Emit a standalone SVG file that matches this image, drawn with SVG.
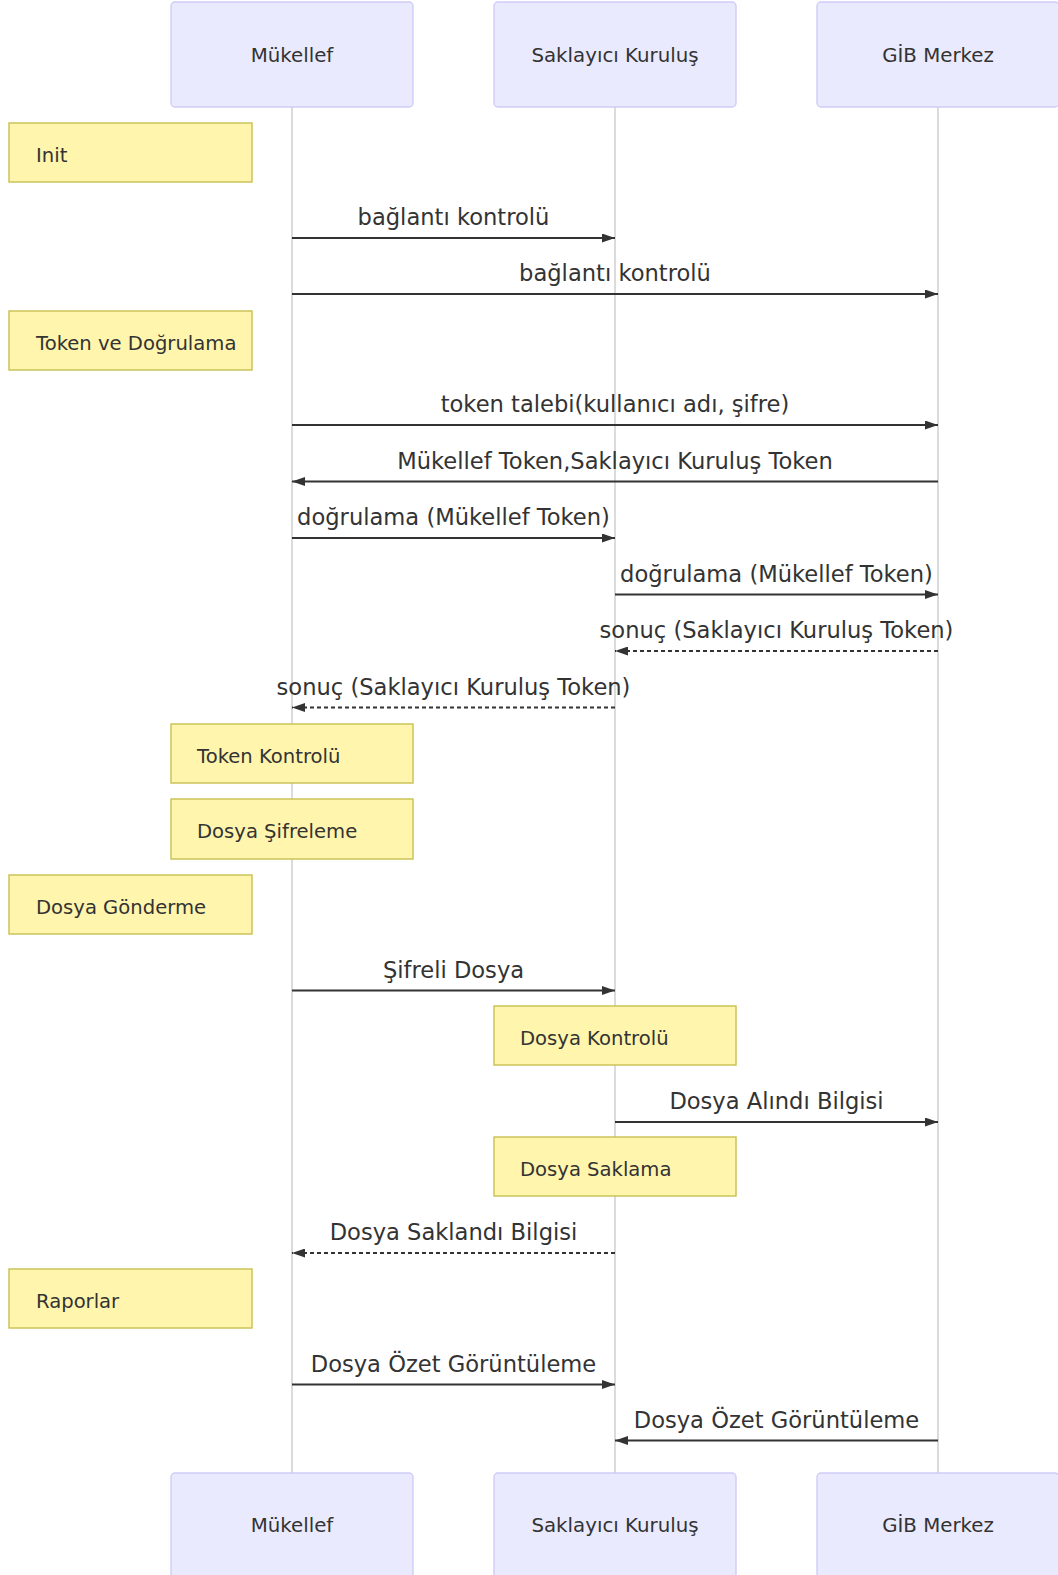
<svg xmlns="http://www.w3.org/2000/svg" width="1058" height="1575" viewBox="0 0 1058 1575">
<defs>
<style>
.actor{fill:#eaeaff;stroke:#d0ccf8;stroke-width:1.4}
.atext{font-family:"DejaVu Sans",sans-serif;font-size:19.8px;fill:#333;text-anchor:middle}
.life{stroke:#cccccc;stroke-width:1.4}
.note{fill:#fff5ad;stroke:#c8c050;stroke-width:1.4}
.ntext{font-family:"DejaVu Sans",sans-serif;font-size:19.6px;fill:#333}
.msg{stroke:#333;stroke-width:2;fill:none}
.dash{stroke-dasharray:4 3}
.mtext{font-family:"DejaVu Sans",sans-serif;font-size:22.6px;fill:#333;text-anchor:middle}
</style>
<marker id="ah" markerUnits="userSpaceOnUse" markerWidth="13" markerHeight="9" viewBox="0 0 13 9" refX="13" refY="4.5" orient="auto">
<path d="M0,0 L13,4.5 L0,9 z" fill="#333"/>
</marker>
</defs>
<rect width="1058" height="1575" fill="#ffffff"/>
<g id="lifelines">
<line class="life" x1="292" y1="107" x2="292" y2="1473"/>
<line class="life" x1="615" y1="107" x2="615" y2="1473"/>
<line class="life" x1="938" y1="107" x2="938" y2="1473"/>
</g>
<g id="actor-mukellef-top"><rect class="actor" x="171" y="2" width="242" height="105" rx="4"/><text class="atext" x="292" y="62">Mükellef</text></g>
<g id="actor-saklayici-top"><rect class="actor" x="494" y="2" width="242" height="105" rx="4"/><text class="atext" x="615" y="62">Saklayıcı Kuruluş</text></g>
<g id="actor-gib-top"><rect class="actor" x="817" y="2" width="242" height="105" rx="4"/><text class="atext" x="938" y="62">GİB Merkez</text></g>
<g id="actor-mukellef-bottom"><rect class="actor" x="171" y="1473" width="242" height="105" rx="4"/><text class="atext" x="292" y="1532">Mükellef</text></g>
<g id="actor-saklayici-bottom"><rect class="actor" x="494" y="1473" width="242" height="105" rx="4"/><text class="atext" x="615" y="1532">Saklayıcı Kuruluş</text></g>
<g id="actor-gib-bottom"><rect class="actor" x="817" y="1473" width="242" height="105" rx="4"/><text class="atext" x="938" y="1532">GİB Merkez</text></g>
<g id="note-init"><rect class="note" x="9" y="123" width="243" height="59"/><text class="ntext" x="36" y="162">Init</text></g>
<g id="note-token"><rect class="note" x="9" y="311" width="243" height="59"/><text class="ntext" x="36" y="350">Token ve Doğrulama</text></g>
<g id="note-tokenkontrol"><rect class="note" x="171" y="724" width="242" height="59"/><text class="ntext" x="197" y="763">Token Kontrolü</text></g>
<g id="note-sifreleme"><rect class="note" x="171" y="799" width="242" height="60"/><text class="ntext" x="197" y="838">Dosya Şifreleme</text></g>
<g id="note-gonderme"><rect class="note" x="9" y="875" width="243" height="59"/><text class="ntext" x="36" y="914">Dosya Gönderme</text></g>
<g id="note-dosyakontrol"><rect class="note" x="494" y="1006" width="242" height="59"/><text class="ntext" x="520" y="1045">Dosya Kontrolü</text></g>
<g id="note-saklama"><rect class="note" x="494" y="1137" width="242" height="59"/><text class="ntext" x="520" y="1176">Dosya Saklama</text></g>
<g id="note-raporlar"><rect class="note" x="9" y="1269" width="243" height="59"/><text class="ntext" x="36" y="1308">Raporlar</text></g>
<g id="connectors">
<line class="msg" x1="292" y1="238" x2="615" y2="238" marker-end="url(#ah)"/>
<text class="mtext" x="453.5" y="225">bağlantı kontrolü</text>
<line class="msg" x1="292" y1="294" x2="938" y2="294" marker-end="url(#ah)"/>
<text class="mtext" x="615" y="281">bağlantı kontrolü</text>
<line class="msg" x1="292" y1="425" x2="938" y2="425" marker-end="url(#ah)"/>
<text class="mtext" x="615" y="412">token talebi(kullanıcı adı, şifre)</text>
<line class="msg" x1="938" y1="481.5" x2="292" y2="481.5" marker-end="url(#ah)"/>
<text class="mtext" x="615" y="468.5">Mükellef Token,Saklayıcı Kuruluş Token</text>
<line class="msg" x1="292" y1="538" x2="615" y2="538" marker-end="url(#ah)"/>
<text class="mtext" x="453.5" y="525">doğrulama (Mükellef Token)</text>
<line class="msg" x1="615" y1="594.5" x2="938" y2="594.5" marker-end="url(#ah)"/>
<text class="mtext" x="776.5" y="581.5">doğrulama (Mükellef Token)</text>
<line class="msg dash" x1="938" y1="651" x2="615" y2="651" marker-end="url(#ah)"/>
<text class="mtext" x="776.5" y="638">sonuç (Saklayıcı Kuruluş Token)</text>
<line class="msg dash" x1="615" y1="707.5" x2="292" y2="707.5" marker-end="url(#ah)"/>
<text class="mtext" x="453.5" y="694.5">sonuç (Saklayıcı Kuruluş Token)</text>
<line class="msg" x1="292" y1="990.5" x2="615" y2="990.5" marker-end="url(#ah)"/>
<text class="mtext" x="453.5" y="977.5">Şifreli Dosya</text>
<line class="msg" x1="615" y1="1122" x2="938" y2="1122" marker-end="url(#ah)"/>
<text class="mtext" x="776.5" y="1109">Dosya Alındı Bilgisi</text>
<line class="msg dash" x1="615" y1="1253" x2="292" y2="1253" marker-end="url(#ah)"/>
<text class="mtext" x="453.5" y="1240">Dosya Saklandı Bilgisi</text>
<line class="msg" x1="292" y1="1384.5" x2="615" y2="1384.5" marker-end="url(#ah)"/>
<text class="mtext" x="453.5" y="1371.5">Dosya Özet Görüntüleme</text>
<line class="msg" x1="938" y1="1440.5" x2="615" y2="1440.5" marker-end="url(#ah)"/>
<text class="mtext" x="776.5" y="1427.5">Dosya Özet Görüntüleme</text>
</g>
</svg>
